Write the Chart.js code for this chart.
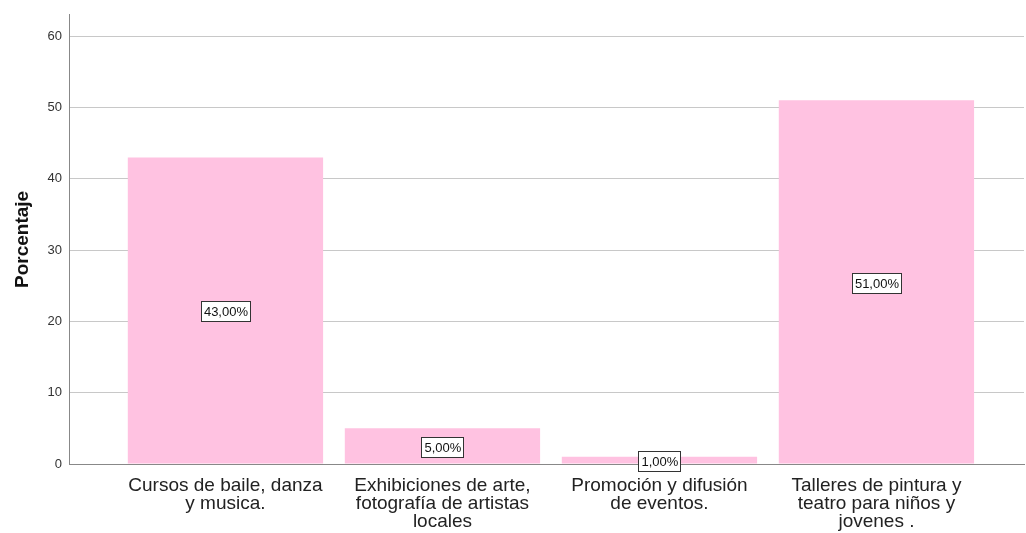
<!DOCTYPE html>
<html><head><meta charset="utf-8">
<script src="https://cdn.jsdelivr.net/npm/chart.js@4"></script>
<style>html,body{margin:0;padding:0;background:#fff}#wrap{width:1026px;height:533px}</style>
</head><body><div id="wrap"><canvas id="c" width="1026" height="533"></canvas></div>
<script>
const categories = [
  ["Cursos de baile, danza","y musica."],
  ["Exhibiciones de arte,","fotografía de artistas","locales"],
  ["Promoción y difusión","de eventos."],
  ["Talleres de pintura y","teatro para niños y","jovenes ."]
];
const values = [43, 5, 1, 51];
const valueLabels = ["43,00%", "5,00%", "1,00%", "51,00%"];
const yTicks = [0, 10, 20, 30, 40, 50, 60];
const yTitle = "Porcentaje";

const FONT = "'Liberation Sans', Arial, sans-serif";

const labelPlugin = {
  id: 'boxLabels',
  afterDatasetsDraw(chart) {
    const ctx = chart.ctx;
    const meta = chart.getDatasetMeta(0);
    ctx.save();
    ctx.font = "13px " + FONT;
    ctx.textAlign = 'center';
    ctx.textBaseline = 'middle';
    meta.data.forEach((bar, i) => {
      const cx = bar.x;
      const cy = Math.round((bar.y + bar.base) / 2) + 1;
      const t = valueLabels[i];
      const w = Math.round(ctx.measureText(t).width) + 5;
      const h = 20;
      const x0 = Math.round(cx - w / 2) + 0.5, y0 = Math.round(cy - h / 2) + 0.5;
      ctx.fillStyle = '#ffffff';
      ctx.fillRect(x0, y0, w, h);
      ctx.strokeStyle = '#333333';
      ctx.lineWidth = 1;
      ctx.strokeRect(x0, y0, w, h);
      ctx.fillStyle = '#111111';
      ctx.fillText(t, cx + 0.5, cy + 1);
    });
    ctx.restore();
  }
};

new Chart(document.getElementById('c'), {
  type: 'bar',
  data: {
    datasets: [{
      data: values.map((v, i) => ({x: i, y: v})),
      backgroundColor: '#FFC2E1',
      borderWidth: 0,
      barPercentage: 0.9,
      categoryPercentage: 1.0
    }]
  },
  options: {
    responsive: false,
    animation: false,
    devicePixelRatio: 1,
    layout: { padding: { top: 12, right: 2, left: 0, bottom: 0 } },
    plugins: { legend: { display: false }, tooltip: { enabled: false } },
    scales: {
      x: {
        type: 'linear',
        offset: false,
        min: -0.721,
        max: 3.680,
        afterBuildTicks: (s) => { s.ticks = categories.map((c, i) => ({ value: i })); },
        afterFit: (s) => { s.height = 69; },
        grid: { display: false, drawTicks: false, offset: false },
        border: { display: true, color: '#888888', width: 1 },
        ticks: {
          autoSkip: false,
          maxRotation: 0,
          padding: 13,
          color: '#222222',
          font: { family: FONT, size: 19, lineHeight: '18px' },
          callback: (v) => categories[v] || ''
        }
      },
      y: {
        min: 0,
        max: 63,
        afterBuildTicks: (s) => { s.ticks = yTicks.map(v => ({ value: v })); },
        afterFit: (s) => { s.width = 69; },
        grid: { color: '#c8c8c8', lineWidth: 1, drawTicks: false },
        border: { display: true, color: '#888888', width: 1 },
        ticks: {
          padding: 7,
          color: '#333333',
          font: { family: FONT, size: 13 }
        },
        title: {
          display: true,
          text: yTitle,
          color: '#111111',
          font: { family: FONT, size: 19, weight: 'bold' },
          padding: { top: 11, bottom: 0 }
        }
      }
    }
  },
  plugins: [labelPlugin]
});
</script></body></html>
